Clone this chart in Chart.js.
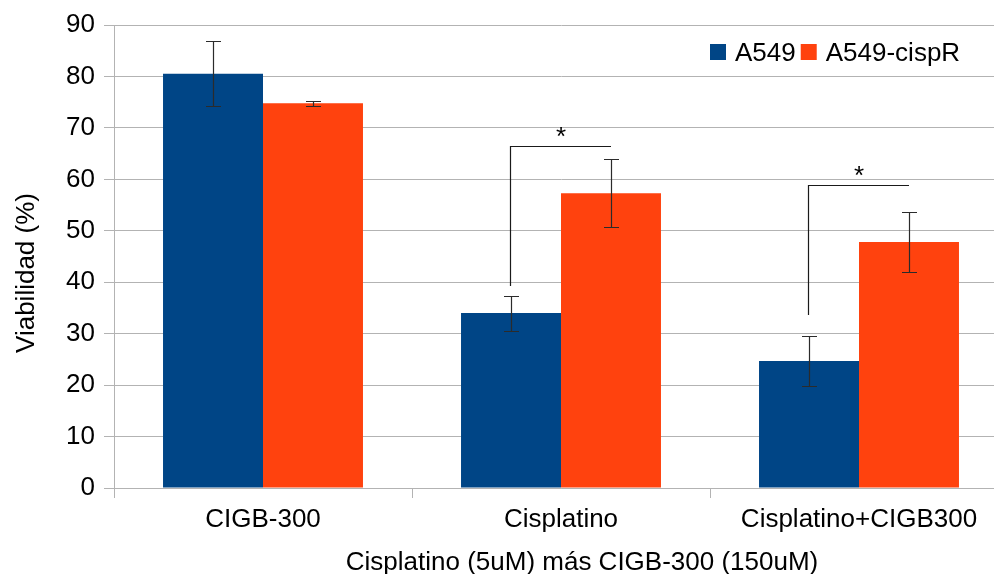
<!DOCTYPE html>
<html>
<head>
<meta charset="utf-8">
<script src="https://cdn.jsdelivr.net/npm/chart.js@4/dist/chart.umd.min.js"></script>
<style>
  html, body { margin: 0; padding: 0; overflow: hidden; background: #fff; }
  #wrap { position: relative; width: 1008px; height: 574px; }
</style>
</head>
<body>
<div id="wrap"><canvas id="chart"></canvas></div>
<script>
// Cell viability per treatment, two cell lines
const categories = ['CIGB-300', 'Cisplatino', 'Cisplatino+CIGB300'];
const seriesNames = ['A549', 'A549-cispR'];
const a549 = [80.5, 34.0, 24.7];
const a549Err = [6.3, 3.4, 4.9];
const cispR = [74.8, 57.3, 47.8];
const cispRErr = [0.5, 6.6, 5.9];

// Significance brackets: top of bracket, foot of the left leg, marker
const sigTop = [null, 66.4, 58.9];
const sigBase = [null, 39.3, 33.6];
const sigMark = [null, '*', '*'];

// Value axis
const yMin = 0;
const yMax = 90;
const yStep = 10;

const xTitle = 'Cisplatino (5uM) más CIGB-300 (150uM)';
const yTitle = 'Viabilidad (%)';

const FONT = "'Liberation Sans', Arial, sans-serif";
const FSIZE = 26;
const GRID = '#b3b3b3';

Chart.defaults.font.family = FONT;
Chart.defaults.color = '#000';

// Whisker lines for mean ± error on each bar
const errorBars = {
  id: 'errorBars',
  afterDatasetsDraw(chart, args, opts) {
    const { ctx } = chart;
    const y = chart.scales.y;
    ctx.save();
    ctx.strokeStyle = opts.color;
    ctx.lineWidth = opts.width;
    chart.data.datasets.forEach((ds, i) => {
      const meta = chart.getDatasetMeta(i);
      meta.data.forEach((bar, j) => {
        const v = ds.data[j];
        const e = ds.errors[j];
        const x = Math.round(bar.x) + 0.5;
        const top = Math.round(y.getPixelForValue(v + e)) + 0.5;
        const bot = Math.round(y.getPixelForValue(v - e)) + 0.5;
        ctx.beginPath();
        ctx.moveTo(x, top); ctx.lineTo(x, bot);
        ctx.moveTo(x - opts.cap, top); ctx.lineTo(x + opts.cap, top);
        ctx.moveTo(x - opts.cap, bot); ctx.lineTo(x + opts.cap, bot);
        ctx.stroke();
      });
    });
    ctx.restore();
  }
};

// Brackets with a marker between the two bars of a group
const sigBrackets = {
  id: 'sigBrackets',
  afterDatasetsDraw(chart, args, opts) {
    const { ctx } = chart;
    const y = chart.scales.y;
    const m0 = chart.getDatasetMeta(0);
    const m1 = chart.getDatasetMeta(1);
    ctx.save();
    ctx.strokeStyle = opts.color;
    ctx.lineWidth = opts.width;
    ctx.fillStyle = '#000';
    ctx.font = FSIZE + 'px ' + FONT;
    ctx.textAlign = 'center';
    ctx.textBaseline = 'alphabetic';
    sigTop.forEach((t, j) => {
      if (t === null) return;
      const xl = Math.round(m0.data[j].x) - 0.5;
      const xr = Math.round(m1.data[j].x);
      const yt = Math.round(y.getPixelForValue(t)) + 0.5;
      const yb = Math.round(y.getPixelForValue(sigBase[j]));
      ctx.beginPath();
      ctx.moveTo(xl, yb); ctx.lineTo(xl, yt); ctx.lineTo(xr, yt);
      ctx.stroke();
      ctx.fillText(sigMark[j], (m0.data[j].x + m1.data[j].x) / 2, yt - 1.5);
    });
    ctx.restore();
  }
};

// Series key drawn inside the plot, top right
const seriesKey = {
  id: 'seriesKey',
  afterDraw(chart, args, opts) {
    const { ctx } = chart;
    ctx.save();
    ctx.font = FSIZE + 'px ' + FONT;
    ctx.textAlign = 'left';
    ctx.textBaseline = 'alphabetic';
    let x = opts.x;
    chart.data.datasets.forEach((ds) => {
      ctx.fillStyle = ds.backgroundColor;
      ctx.fillRect(x, opts.y - opts.box / 2, opts.box, opts.box);
      x += opts.box + opts.gap;
      ctx.fillStyle = '#000';
      ctx.fillText(ds.label, x, opts.y + 9);
      x += ctx.measureText(ds.label).width + opts.spacing;
    });
    ctx.restore();
  }
};

// Axis captions
const axisCaptions = {
  id: 'axisCaptions',
  afterDraw(chart, args, opts) {
    const { ctx } = chart;
    ctx.save();
    ctx.fillStyle = '#000';
    ctx.font = FSIZE + 'px ' + FONT;
    ctx.textAlign = 'center';
    ctx.textBaseline = 'alphabetic';
    ctx.fillText(xTitle, opts.xTitleX, opts.xTitleBase);
    ctx.translate(opts.yTitleBase, opts.yTitleY);
    ctx.rotate(-Math.PI / 2);
    ctx.fillText(yTitle, 0, 0);
    ctx.restore();
  }
};

new Chart(document.getElementById('chart'), {
  type: 'bar',
  data: {
    labels: categories,
    datasets: [
      { label: seriesNames[0], data: a549, errors: a549Err, backgroundColor: '#004586', borderWidth: 0 },
      { label: seriesNames[1], data: cispR, errors: cispRErr, backgroundColor: '#ff420e', borderWidth: 0 }
    ]
  },
  options: {
    responsive: true,
    maintainAspectRatio: false,
    animation: false,
    devicePixelRatio: 1,
    categoryPercentage: 0.671,
    barPercentage: 1.0,
    layout: { padding: { top: 25, right: 0, bottom: 0, left: 0 } },
    plugins: {
      legend: { display: false },
      tooltip: { enabled: false },
      errorBars: { color: '#2b2b2b', width: 1.2, cap: 7.5 },
      sigBrackets: { color: '#1a1a1a', width: 1.2 },
      seriesKey: { x: 710, y: 52, box: 16, gap: 9, spacing: 5 },
      axisCaptions: { xTitleX: 582, xTitleBase: 570, yTitleBase: 34, yTitleY: 273 }
    },
    scales: {
      x: {
        grid: { display: true, drawOnChartArea: false, drawTicks: true, tickLength: 10, color: GRID, offset: true },
        border: { color: GRID, width: 1 },
        ticks: { font: { size: FSIZE }, color: '#000', padding: 6, maxRotation: 0, autoSkip: false },
        afterFit(scale) { scale.height = 86; }
      },
      y: {
        min: yMin,
        max: yMax,
        grid: { color: GRID, tickLength: 10, drawTicks: true },
        border: { color: GRID, width: 1 },
        ticks: { stepSize: yStep, font: { size: FSIZE }, color: '#000', padding: 9 },
        afterFit(scale) { scale.width = 114; }
      }
    }
  },
  plugins: [errorBars, sigBrackets, seriesKey, axisCaptions]
});
</script>
</body>
</html>
